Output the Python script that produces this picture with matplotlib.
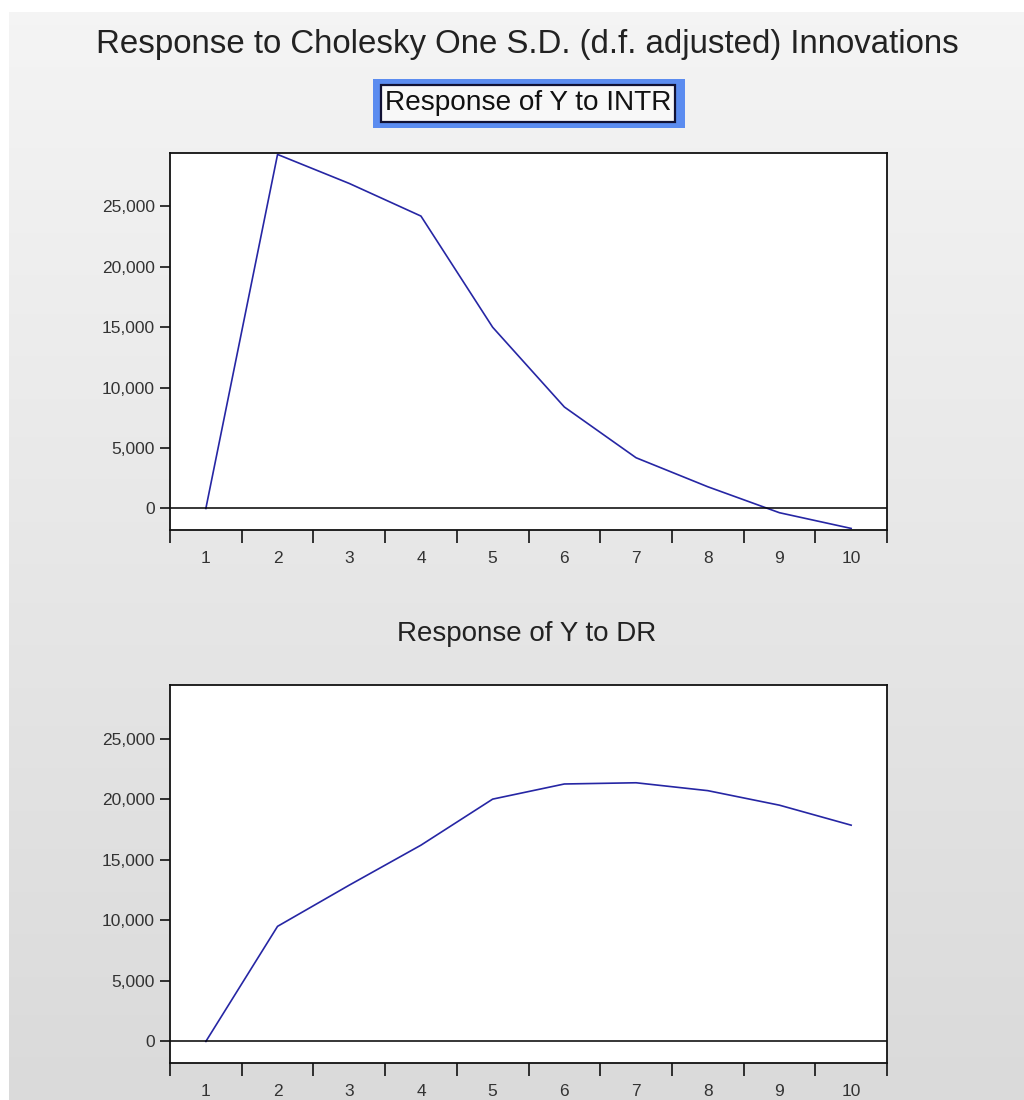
import numpy as np
import matplotlib
matplotlib.use("Agg")
import matplotlib.pyplot as plt
from matplotlib.ticker import FixedLocator, FuncFormatter
from matplotlib.patches import Rectangle

# periods and impulse responses
periods = np.arange(1, 11)
resp_intr = [0, 29300, 26900, 24200, 15000, 8400, 4200, 1800, -350, -1650]
resp_dr = [0, 9500, 12900, 16200, 20000, 21250, 21350, 20700, 19500, 17850]
y_ticks = [0, 5000, 10000, 15000, 20000, 25000]
y_lim = (-1780, 29420)

main_title = "Response to Cholesky One S.D. (d.f. adjusted) Innovations"
panel_titles = ["Response of Y to INTR", "Response of Y to DR"]

plt.rcParams["font.family"] = ["Liberation Sans", "DejaVu Sans"]

fig = plt.figure(figsize=(10.24, 11), dpi=100)
fig.patch.set_facecolor("white")

# gradient background panel
bg = fig.add_axes([9 / 1024, 0, 1 - 9 / 1024, 1 - 12 / 1100], zorder=-10)
grad = np.linspace(0.958, 0.855, 256).reshape(-1, 1)
bg.imshow(np.repeat(grad[:, :, None], 3, axis=2), aspect="auto", extent=[0, 1, 0, 1])
bg.set_axis_off()

line_col = "#2626a4"
txt_col = "#333333"

fig.text(527 / 1024, 1 - 44 / 1100, main_title, ha="center", va="center",
         fontsize=23.8, color="#222222")

positions = [[170 / 1024, 1 - 530 / 1100, 717 / 1024, 377 / 1100],
             [170 / 1024, 1 - 1063 / 1100, 717 / 1024, 378 / 1100]]
series = [resp_intr, resp_dr]

for i, (pos, vals) in enumerate(zip(positions, series)):
    ax = fig.add_axes(pos)
    ax.set_facecolor("white")
    ax.plot(periods, vals, color=line_col, lw=1.2)
    ax.axhline(0, color="black", lw=1.1)
    ax.set_xlim(0.5, 10.5)
    ax.set_ylim(*y_lim)
    ax.xaxis.set_major_locator(FixedLocator(np.arange(0.5, 11, 1)))
    ax.xaxis.set_minor_locator(FixedLocator(periods))
    ax.xaxis.set_major_formatter(FuncFormatter(lambda v, p: ""))
    ax.xaxis.set_minor_formatter(FuncFormatter(lambda v, p: f"{int(round(v))}"))
    ax.tick_params(axis="x", which="major", direction="out", length=9, width=1.1, color="black")
    ax.tick_params(axis="x", which="minor", length=0, pad=15, labelsize=12.5, labelcolor=txt_col)
    ax.set_yticks(y_ticks)
    ax.yaxis.set_major_formatter(FuncFormatter(lambda v, p: f"{int(v):,}"))
    ax.tick_params(axis="y", direction="out", length=7, width=1.1, pad=4,
                   labelsize=12.5, labelcolor=txt_col)
    for s in ax.spines.values():
        s.set_linewidth(1.3)
        s.set_color("#111111")

# panel titles
fig.patches.append(Rectangle((373 / 1024, 1 - 128 / 1100), 312 / 1024, 49 / 1100,
                             transform=fig.transFigure, facecolor="#5b8cf0",
                             edgecolor="none", zorder=1))
fig.patches.append(Rectangle((381 / 1024, 1 - 122 / 1100), 294 / 1024, 37 / 1100,
                             transform=fig.transFigure, facecolor="#f8f8f8",
                             edgecolor="#111133", lw=1.6, zorder=2))
fig.text(528 / 1024, 1 - 103 / 1100, panel_titles[0], ha="center", va="center",
         fontsize=20.2, color="#111111", zorder=3)
fig.text(527 / 1024, 1 - 634 / 1100, panel_titles[1], ha="center", va="center",
         fontsize=20, color="#222222")

fig.savefig("out.png", dpi=100)
